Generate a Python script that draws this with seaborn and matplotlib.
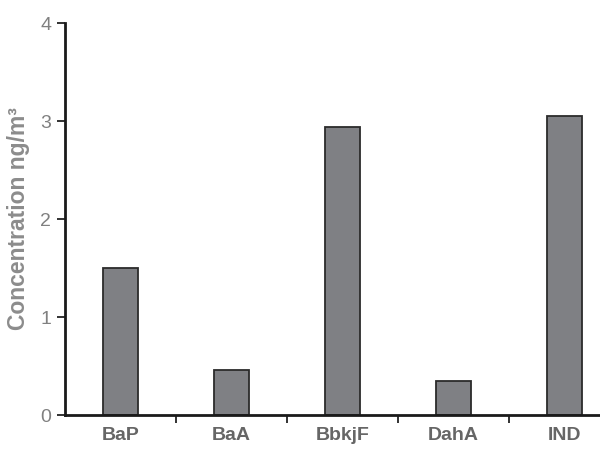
import pandas as pd
import seaborn as sns
import matplotlib.pyplot as plt

# Data
compounds = ['BaP', 'BaA', 'BbkjF', 'DahA', 'IND']
concentration = [1.50, 0.46, 2.94, 0.35, 3.05]

df = pd.DataFrame({'Compound': compounds, 'Concentration': concentration})

sns.set_style('white')
plt.rcParams['font.family'] = ['Liberation Sans', 'DejaVu Sans']

fig = plt.figure(figsize=(6, 4.5), dpi=100)
ax = fig.add_axes([65 / 600, 35 / 450, 555 / 600, 392 / 450])

sns.barplot(data=df, x='Compound', y='Concentration', color='#7f8084',
            saturation=1, width=0.32, edgecolor='#2b2b2b', linewidth=1.3, ax=ax)

ax.set_xlim(-0.5, 4.5)
ax.set_ylim(0, 4)
ax.set_yticks([0, 1, 2, 3, 4])
ax.set_yticklabels(['0', '1', '2', '3', '4'], fontsize=14, color='#808080')

# category labels centred, ticks at category boundaries
ax.set_xticks([0.5, 1.5, 2.5, 3.5], minor=False)
ax.set_xticklabels([])
ax.set_xticks(range(len(compounds)), minor=True)
ax.set_xticklabels(compounds, minor=True, fontsize=14, fontweight='bold', color='#666666')
ax.tick_params(axis='x', which='minor', length=0, pad=9)
ax.tick_params(axis='x', which='major', direction='out', length=6, width=1.3, color='#222222')
ax.tick_params(axis='y', direction='out', length=6, width=1.3, color='#222222', pad=4)
ax.tick_params(left=True, bottom=True)

ax.set_xlabel('')
ax.set_ylabel('Concentration ng/m³', fontsize=16.5, fontweight='bold', color='#8c8c8c', labelpad=7)

for side in ['top', 'right']:
    ax.spines[side].set_visible(False)
for side in ['left', 'bottom']:
    ax.spines[side].set_color('#1a1a1a')
    ax.spines[side].set_linewidth(2)

plt.savefig('out.png', dpi=100)
